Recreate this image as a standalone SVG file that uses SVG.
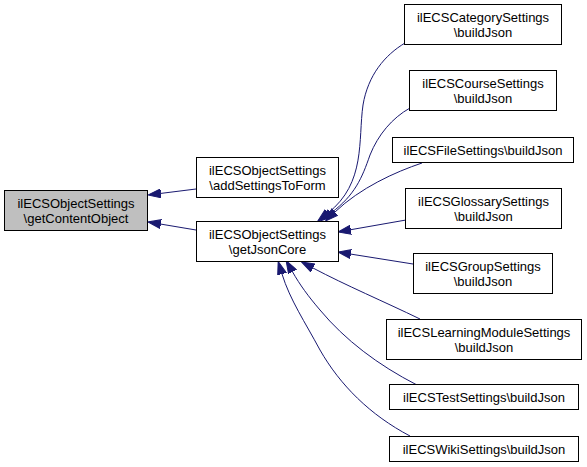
<svg xmlns="http://www.w3.org/2000/svg" width="587" height="467" viewBox="0 0 587 467">
<style>
.node rect{fill:#ffffff;stroke:#000000;stroke-width:1}
.node.root rect{fill:#bfbfbf}
.node text{font-family:"Liberation Sans",Arial,Helvetica,sans-serif;font-size:13px;fill:#000000;text-anchor:middle}
.edges path{fill:none;stroke:#191970;stroke-width:1}
</style>
<defs>
<marker id="ah" markerUnits="userSpaceOnUse" viewBox="0 0 13 10" refX="0" refY="5" markerWidth="13" markerHeight="10" orient="auto">
<path d="M0,0.5 L13,5 L0,9.5 Z" fill="#191970" stroke="#191970" stroke-width="1"/>
</marker>
</defs>
<rect width="587" height="467" fill="#ffffff"/>
<g id="edges" class="edges">
<path marker-end="url(#ah)" d="M196,189 L160.9,193.4"/>
<path marker-end="url(#ah)" d="M196,230 L160.8,224.1"/>
<path marker-end="url(#ah)" d="M405,43 C385,55 368,75 363,105 C358,140 366,183 328,213"/>
<path marker-end="url(#ah)" d="M410,108 C392,118 378,135 370,155 C362,178 355,195 331,213"/>
<path marker-end="url(#ah)" d="M422,163 C395,172 360,188 335,212"/>
<path marker-end="url(#ah)" d="M406,220 L350.8,229.7"/>
<path marker-end="url(#ah)" d="M413,264 L350.8,254.1"/>
<path marker-end="url(#ah)" d="M420,319 C385,302 345,285 313,268"/>
<path marker-end="url(#ah)" d="M417,385 C378,365 345,340 320,310 C308,296 300,285 292.5,271.8"/>
<path marker-end="url(#ah)" d="M410,436 C370,415 340,385 320,350 C305,322 290,300 282,274"/>
</g>
<g id="getContentObject" class="node root">
<rect x="4.5" y="190.5" width="143" height="40"/>
<text x="76" y="208">ilECSObjectSettings</text>
<text x="76" y="222.5">\getContentObject</text>
</g>
<g id="addSettingsToForm" class="node">
<rect x="196.5" y="157.5" width="142" height="40"/>
<text x="267.5" y="175">ilECSObjectSettings</text>
<text x="267.5" y="189.5">\addSettingsToForm</text>
</g>
<g id="getJsonCore" class="node">
<rect x="196.5" y="221.5" width="142" height="40"/>
<text x="267.5" y="239">ilECSObjectSettings</text>
<text x="267.5" y="253.5">\getJsonCore</text>
</g>
<g id="category" class="node">
<rect x="404.5" y="4.5" width="157" height="40"/>
<text x="483" y="22">ilECSCategorySettings</text>
<text x="483" y="36.5">\buildJson</text>
</g>
<g id="course" class="node">
<rect x="409.5" y="70.5" width="147" height="40"/>
<text x="483" y="88">ilECSCourseSettings</text>
<text x="483" y="102.5">\buildJson</text>
</g>
<g id="file" class="node">
<rect x="392.5" y="137.5" width="181" height="25"/>
<text x="483" y="154.5">ilECSFileSettings\buildJson</text>
</g>
<g id="glossary" class="node">
<rect x="405.5" y="188.5" width="156" height="40"/>
<text x="483.5" y="206">ilECSGlossarySettings</text>
<text x="483.5" y="220.5">\buildJson</text>
</g>
<g id="group" class="node">
<rect x="413.5" y="253.5" width="139" height="40"/>
<text x="483" y="271">ilECSGroupSettings</text>
<text x="483" y="285.5">\buildJson</text>
</g>
<g id="learning" class="node">
<rect x="386.5" y="319.5" width="195" height="40"/>
<text x="484" y="337">ilECSLearningModuleSettings</text>
<text x="484" y="351.5">\buildJson</text>
</g>
<g id="test" class="node">
<rect x="389.5" y="384.5" width="189" height="25"/>
<text x="484" y="401.5">ilECSTestSettings\buildJson</text>
</g>
<g id="wiki" class="node">
<rect x="389.5" y="436.5" width="189" height="25"/>
<text x="484" y="453.5">ilECSWikiSettings\buildJson</text>
</g>
</svg>
